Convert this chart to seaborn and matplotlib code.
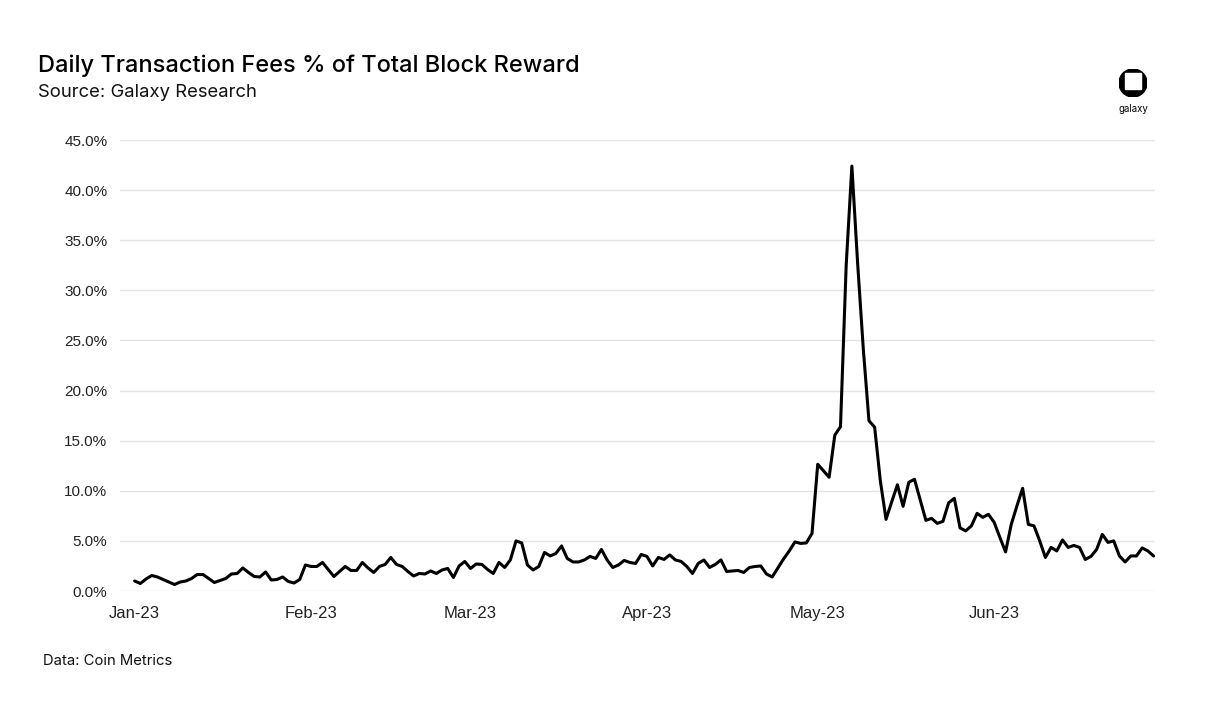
import pandas as pd
import numpy as np
import matplotlib.pyplot as plt
import matplotlib.dates as mdates
import matplotlib.ticker as mticker
from matplotlib.patches import Circle, Rectangle
import seaborn as sns

# daily transaction fees as % of total block reward (Jan 1 2023 onwards)
fee_pct = [
    1.0, 0.75, 1.2, 1.55, 1.4, 1.15, 0.9, 0.65, 0.9, 1.0,
    1.25, 1.65, 1.65, 1.25, 0.85, 1.05, 1.25, 1.7, 1.75, 2.3,
    1.85, 1.45, 1.4, 1.9, 1.1, 1.15, 1.4, 0.95, 0.8, 1.15,
    2.6, 2.45, 2.45, 2.85, 2.15, 1.45, 1.95, 2.45, 2.05, 2.05,
    2.85, 2.3, 1.85, 2.45, 2.65, 3.35, 2.65, 2.45, 1.95, 1.5,
    1.75, 1.7, 2.0, 1.75, 2.1, 2.25, 1.35, 2.5, 2.95, 2.25,
    2.7, 2.65, 2.15, 1.75, 2.85, 2.35, 3.1, 5.0, 4.8, 2.6,
    2.1, 2.45, 3.85, 3.5, 3.75, 4.5, 3.25, 2.9, 2.9, 3.1,
    3.45, 3.25, 4.15, 3.1, 2.35, 2.6, 3.05, 2.85, 2.75, 3.65,
    3.45, 2.5, 3.35, 3.15, 3.6, 3.1, 2.95, 2.45, 1.75, 2.75,
    3.1, 2.35, 2.65, 3.1, 1.95, 2.0, 2.05, 1.85, 2.35, 2.45,
    2.5, 1.7, 1.4, 2.3, 3.2, 4.0, 4.9, 4.75, 4.8, 5.75,
    12.65, 12.0, 11.35, 15.55, 16.4, 32.5, 42.4, 32.8, 24.2, 17.0,
    16.35, 11.0, 7.15, 8.9, 10.6, 8.45, 10.85, 11.15, 9.1, 7.05,
    7.25, 6.75, 6.95, 8.8, 9.25, 6.3, 6.0, 6.5, 7.75, 7.35,
    7.65, 6.85, 5.35, 3.9, 6.65, 8.5, 10.25, 6.65, 6.5, 5.0,
    3.35, 4.35, 4.0, 5.1, 4.35, 4.55, 4.35, 3.15, 3.45, 4.15,
    5.65, 4.85, 5.0, 3.5, 2.9, 3.5, 3.5, 4.3, 4.0, 3.5,
]
start_date = "2023-01-01"
y_ticks = [0, 5, 10, 15, 20, 25, 30, 35, 40, 45]

df = pd.DataFrame({
    "date": pd.date_range(start_date, periods=len(fee_pct), freq="D"),
    "fee_pct": fee_pct,
})

sns.set_theme(style="white")
plt.rcParams["font.family"] = ["Liberation Sans", "DejaVu Sans"]

fig = plt.figure(figsize=(12.23, 7.09), dpi=100)
ax = fig.add_axes([0.098, 0.1664, 0.846, 0.6361])

sns.lineplot(data=df, x="date", y="fee_pct", color="black", linewidth=2.2, ax=ax)

ax.set_ylim(0, 45)
ax.set_yticks(y_ticks)
ax.yaxis.set_major_formatter(mticker.FuncFormatter(lambda v, _: f"{v:.1f}%"))
ax.set_xlim(pd.Timestamp("2023-01-01") - pd.Timedelta(days=2.6),
            pd.Timestamp("2023-06-29") + pd.Timedelta(hours=4))
ax.xaxis.set_major_locator(mdates.MonthLocator())
ax.xaxis.set_major_formatter(mdates.DateFormatter("%b-%y"))

ax.grid(axis="y", color="#e4e4e4", linewidth=1.0)
ax.grid(axis="x", visible=False)
for s in ax.spines.values():
    s.set_visible(False)
ax.tick_params(axis="y", length=0, pad=9, labelsize=11, colors="#222222")
ax.tick_params(axis="x", length=0, pad=11, labelsize=12, colors="#222222")
ax.set_xlabel("")
ax.set_ylabel("")

fig.text(0.031, 0.898, "Daily Transaction Fees % of Total Block Reward",
         fontsize=17, fontfamily=["Inter", "DejaVu Sans"], fontweight="medium",
         va="baseline", color="black")
fig.text(0.031, 0.863, "Source: Galaxy Research", fontsize=13.3,
         fontfamily=["Inter", "DejaVu Sans"], va="baseline", color="#111111")
fig.text(0.035, 0.062, "Data: Coin Metrics", fontsize=10.7,
         fontfamily=["Inter", "DejaVu Sans"], va="baseline", color="#111111")

# galaxy logo, top right
logo = fig.add_axes([1119 / 1223, 1 - 97 / 709, 28 / 1223, 28 / 709])
logo.set_xlim(0, 1)
logo.set_ylim(0, 1)
logo.set_aspect("equal")
logo.axis("off")
logo.add_patch(Circle((0.5, 0.5), 0.5, color="black"))
logo.add_patch(Rectangle((0.2, 0.3), 0.6, 0.54, color="white"))
fig.text(1133 / 1223, 1 - 112 / 709, "galaxy", fontsize=7, ha="center",
         va="baseline", fontfamily=["Inter", "DejaVu Sans"], color="black")

fig.savefig("out.png", dpi=100)
